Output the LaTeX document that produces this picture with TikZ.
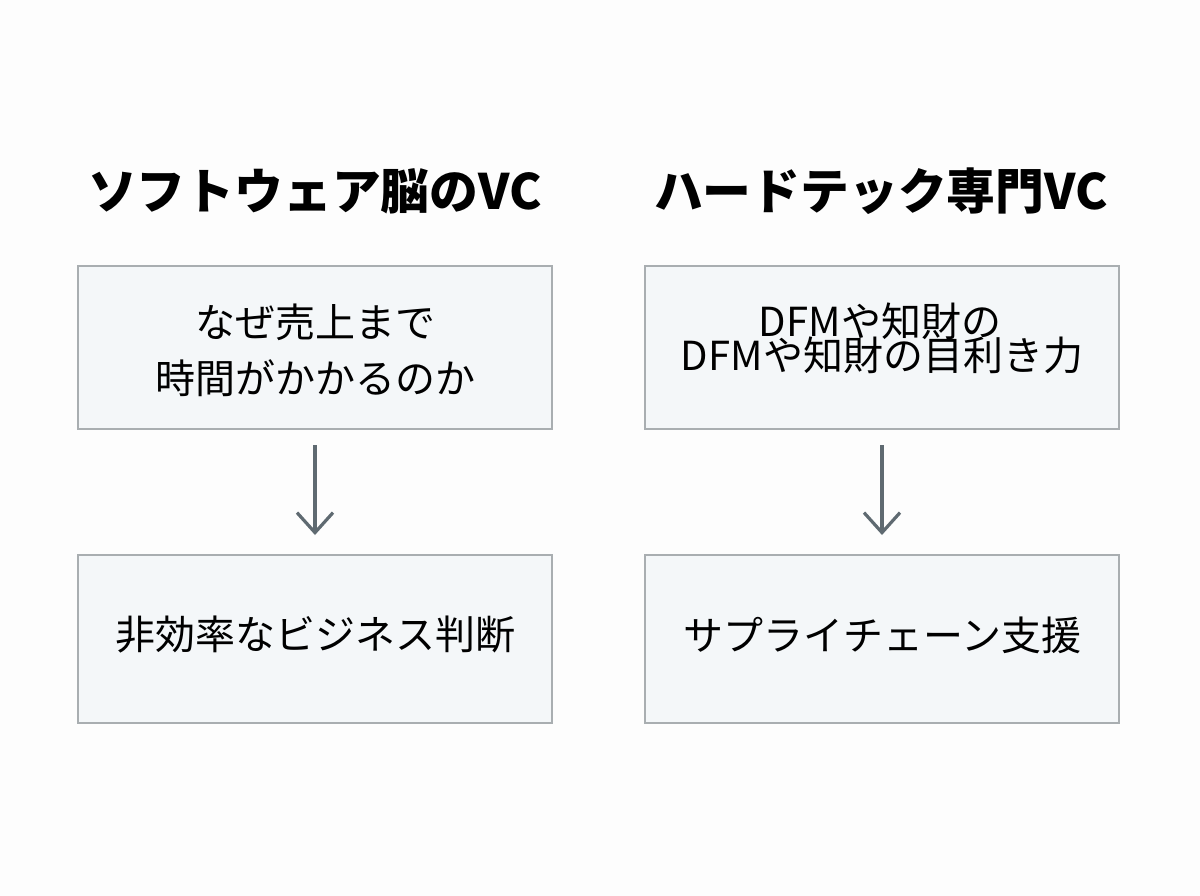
\documentclass[tikz,border=0pt]{standalone}
\usepackage{fontspec}
\setmainfont{Noto Sans CJK JP}
\newfontfamily\jpfont{Noto Sans CJK JP}
\usetikzlibrary{arrows.meta}
\definecolor{boxfill}{HTML}{F4F7F9}
\definecolor{boxline}{HTML}{A9AEB1}
\definecolor{arrowc}{HTML}{5F6A71}
\definecolor{bg}{HTML}{FDFDFD}
\begin{document}
\begin{tikzpicture}[x=0.75pt,y=-0.75pt,
  titlestyle/.style={font=\jpfont\bfseries\fontsize{36.6}{44}\selectfont, text=black, inner sep=0pt},
  boxstyle/.style={draw=boxline, line width=1.5pt, fill=boxfill, minimum width=474*0.75pt, inner sep=0pt},
  boxtext/.style={font=\jpfont\fontsize{30}{42}\selectfont, text=black, inner sep=0pt, align=center},
  flowarrow/.style={draw=arrowc, line width=2.4pt, -{Straight Barb[length=15pt,width=27pt,line width=2.4pt]}}
]
\useasboundingbox[fill=bg] (0,0) rectangle (1200,896);
% titles
\node[titlestyle] (t1) at (315,191) {ソフトウェア脳のVC};
\node[titlestyle] (t2) at (881,191) {ハードテック専門VC};
% boxes
\node[boxstyle, minimum height=163*0.75pt] (b1) at (315,347.5) {};
\node[boxstyle, minimum height=163*0.75pt] (b2) at (882,347.5) {};
\node[boxstyle, minimum height=168*0.75pt] (b3) at (315,639) {};
\node[boxstyle, minimum height=168*0.75pt] (b4) at (882,639) {};
% box texts
\node[boxtext] (l1) at (315,350) {なぜ売上まで\\時間がかかるのか};
\node[boxtext] (r1a) at (880,321) {DFMや知財の};
\node[boxtext] (r1b) at (882,355) {DFMや知財の目利き力};
\node[boxtext] (l2) at (315,635) {非効率なビジネス判断};
\node[boxtext] (r2) at (882,635) {サプライチェーン支援};
% arrows
\coordinate (a1s) at (315,445);
\coordinate (a1e) at (315,535);
\coordinate (a2s) at (882,445);
\coordinate (a2e) at (882,535);
\draw[flowarrow] (a1s) -- (a1e);
\draw[flowarrow] (a2s) -- (a2e);
\end{tikzpicture}
\end{document}
